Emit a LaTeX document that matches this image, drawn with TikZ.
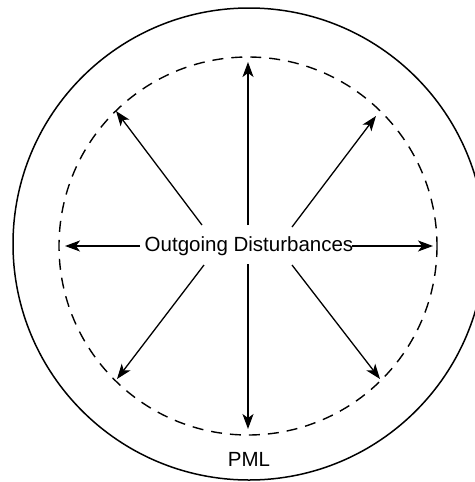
\documentclass[tikz,border=0pt]{standalone}
\usepackage{fontspec}
\setmainfont{Liberation Sans}
\usetikzlibrary{arrows.meta}
\begin{document}
\begin{tikzpicture}[x=1pt,y=-1pt,
  lbl/.style={font=\fontsize{20.5}{24}\selectfont, inner sep=0pt},
  ray/.style={line width=1.3pt, -{Stealth[length=15pt,width=11pt,inset=4pt]}},
  boundary/.style={line width=1.5pt},
  pmlline/.style={line width=1.4pt, dash pattern=on 11pt off 8pt}]
\useasboundingbox (0,0) rectangle (474,482);
\fill[white] (0,0) rectangle (474,482);
\draw[boundary] (249,244) circle[radius=236];
\draw[pmlline] (248,246) circle[radius=189];
\node[lbl] (t) at (249,246.5) {Outgoing Disturbances};
\node[lbl] (pml) at (249,459.5) {PML};
% start points
\coordinate (sN) at (248,225);
\coordinate (sS) at (248,264);
\coordinate (sW) at (140,246);
\coordinate (sE) at (352,246);
\coordinate (sNW) at (202,225);
\coordinate (sNE) at (292,227);
\coordinate (sSW) at (204,265);
\coordinate (sSE) at (292,265);
% tips
\coordinate (eN) at (248,62);
\coordinate (eS) at (248,429);
\coordinate (eW) at (65,246);
\coordinate (eE) at (433,246);
\coordinate (eNW) at (116,111);
\coordinate (eNE) at (376,116);
\coordinate (eSW) at (117,379);
\coordinate (eSE) at (380,379);
\draw[ray] (sN) -- (eN);
\draw[ray] (sS) -- (eS);
\draw[ray] (sW) -- (eW);
\draw[ray] (sE) -- (eE);
\draw[ray] (sNW) -- (eNW);
\draw[ray] (sNE) -- (eNE);
\draw[ray] (sSW) -- (eSW);
\draw[ray] (sSE) -- (eSE);
\end{tikzpicture}
\end{document}
